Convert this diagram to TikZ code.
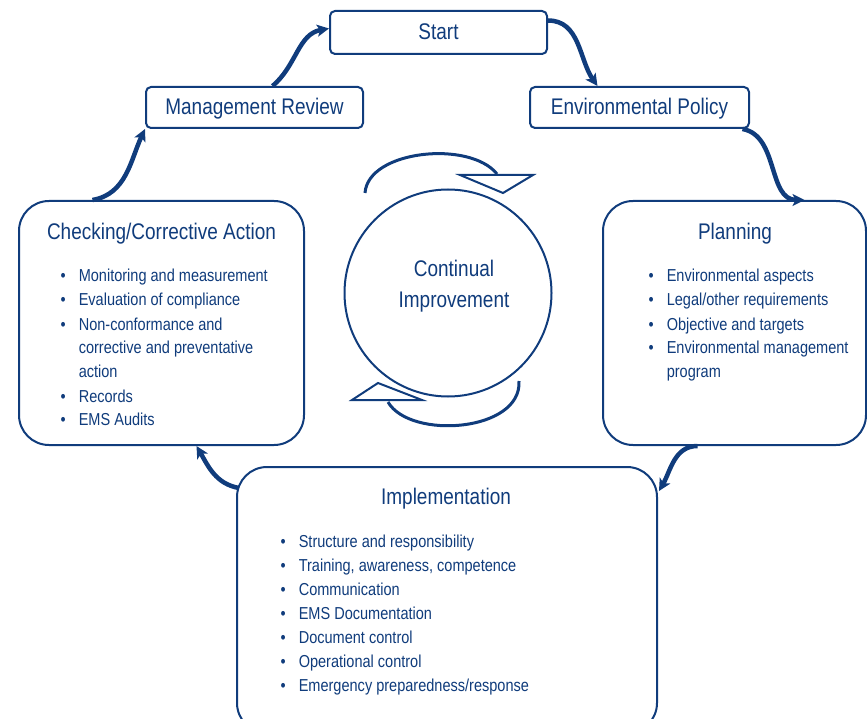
\documentclass[tikz,border=0pt]{standalone}
\usepackage{fontspec}
\setmainfont{Liberation Sans}[FakeStretch=0.84]
\usetikzlibrary{arrows.meta}
\definecolor{navy}{RGB}{16,60,124}

\newcommand{\headfont}{\fontsize{22.6}{31}\selectfont}
\newcommand{\listfont}{\fontsize{17.3}{24}\selectfont}

\begin{document}
\begin{tikzpicture}[x=1pt,y=-1pt,
  every node/.style={text=navy, inner sep=0pt},
  smallbox/.style={draw=navy, line width=2pt, rounded corners=5pt, fill=white,
    font=\headfont, text height=17pt, text depth=2pt},
  bigbox/.style={draw=navy, line width=2pt, rounded corners=30pt, fill=white},
  heading/.style={font=\headfont, align=center},
  itemlist/.style={font=\listfont, anchor=base west},
  flow/.style={draw=navy, line width=4.5pt,
    -{Stealth[length=12pt,width=12pt,inset=3pt]}},
  cycle/.style={draw=navy, line width=3pt},
  cyclehead/.style={draw=navy, line width=2pt, fill=white, line join=miter}
]
\clip (0,0) rectangle (867,719);

% top row of small boxes
\node[smallbox, minimum width=217pt, minimum height=43pt] (start) at (438.5,32.5) {Start};
\node[smallbox, minimum width=217pt, minimum height=41pt] (mr) at (254.5,107.5) {Management Review};
\node[smallbox, minimum width=219pt, minimum height=41pt] (ep) at (639.5,107.5) {Environmental Policy};

% large stage boxes
\node[bigbox, minimum width=285pt, minimum height=244pt] (chk) at (161.5,323) {};
\node[bigbox, minimum width=263pt, minimum height=244pt] (pl) at (734.5,323) {};
\node[bigbox, minimum width=420pt, minimum height=266pt] (imp) at (447,600) {};

% stage headings
\node[heading] (chkh) at (161.5,234) {Checking/Corrective Action};
\node[heading] (plh) at (735,234) {Planning};
\node[heading] (imph) at (446,499) {Implementation};

% stage contents
\node[itemlist] (chkl) at (60.5,282) {%
  \begin{tabular}[t]{@{}l@{\hspace{13pt}}l@{}}
  \textbullet & Monitoring and measurement\\
  \textbullet & Evaluation of compliance\\
  \textbullet & Non-conformance and\\
              & corrective and preventative\\
              & action\\
  \textbullet & Records\\
  \textbullet & EMS Audits
  \end{tabular}};
\node[itemlist] (pll) at (648.5,282) {%
  \begin{tabular}[t]{@{}l@{\hspace{13pt}}l@{}}
  \textbullet & Environmental aspects\\
  \textbullet & Legal/other requirements\\
  \textbullet & Objective and targets\\
  \textbullet & Environmental management\\
              & program
  \end{tabular}};
\node[itemlist] (impl) at (280.5,547.5) {%
  \begin{tabular}[t]{@{}l@{\hspace{13pt}}l@{}}
  \textbullet & Structure and responsibility\\
  \textbullet & Training, awareness, competence\\
  \textbullet & Communication\\
  \textbullet & EMS Documentation\\
  \textbullet & Document control\\
  \textbullet & Operational control\\
  \textbullet & Emergency preparedness/response
  \end{tabular}};

% central cycle
\node[circle, draw=navy, line width=2pt, minimum size=207pt] (ci) at (448,293) {};
\node[heading] (cit) at (454,286) {Continual\\Improvement};
\draw[cycle] (365,193) .. controls (368,150) and (470,140) .. (497,174);
\draw[cyclehead] (460,175) -- (533,175) -- (503,193) -- cycle;
\draw[cycle] (519,381) .. controls (522,432) and (410,440) .. (388,402);
\draw[cyclehead] (352,400) -- (378,383) -- (422,400) -- cycle;

% flow between stages
\draw[flow] ([xshift=-69pt]chk.north) to[out=10, in=245] (mr.south west);
\draw[flow] ([xshift=18pt]mr.north) to[out=40, in=190] ([yshift=4pt]start.west);
\draw[flow] ([yshift=12pt]start.east) to[out=0, in=125] ([xshift=-42pt]ep.north);
\draw[flow] ([xshift=103pt]ep.south) to[out=-10, in=180] ([xshift=70pt]pl.north);
\draw[flow] ([xshift=-37pt]pl.south) to[out=180, in=60] ([xshift=1pt,yshift=-25pt]imp.north east);
\draw[flow] ([xshift=3pt,yshift=-22pt]imp.north west) to[out=170, in=-60] ([xshift=35pt]chk.south);
\end{tikzpicture}
\end{document}
